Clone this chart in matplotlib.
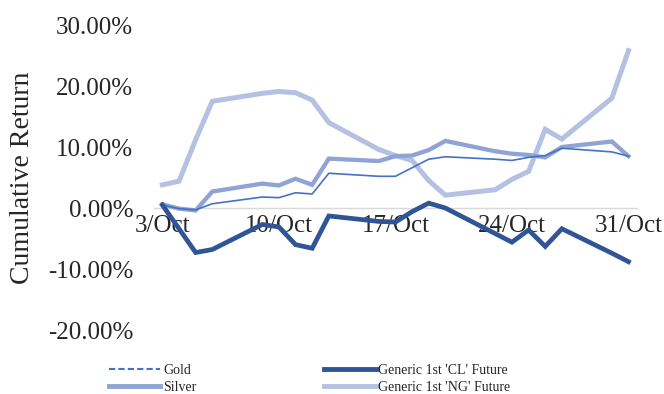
import matplotlib
matplotlib.use("Agg")
import matplotlib.pyplot as plt
import matplotlib.dates as mdates
from matplotlib.lines import Line2D
from matplotlib.ticker import FuncFormatter
import pandas as pd

# trading days in October 2023
dates = pd.to_datetime([
    "2023-10-03", "2023-10-04", "2023-10-05", "2023-10-06", "2023-10-09",
    "2023-10-10", "2023-10-11", "2023-10-12", "2023-10-13", "2023-10-16",
    "2023-10-17", "2023-10-18", "2023-10-19", "2023-10-20", "2023-10-23",
    "2023-10-24", "2023-10-25", "2023-10-26", "2023-10-27", "2023-10-30",
    "2023-10-31",
])

# cumulative returns, in percent
gold = [0.5, -0.1, -0.3, 0.7, 1.8, 1.7, 2.5, 2.3, 5.7, 5.2, 5.2,
        6.6, 8.0, 8.4, 8.0, 7.8, 8.3, 8.6, 9.8, 9.2, 8.5]
silver = [0.6, -0.1, -0.4, 2.7, 4.0, 3.7, 4.8, 3.8, 8.1, 7.7, 8.5,
          8.6, 9.5, 11.0, 9.3, 8.9, 8.7, 8.3, 10.0, 10.9, 8.5]
cl = [0.5, -3.4, -7.3, -6.8, -2.7, -3.1, -6.0, -6.6, -1.3, -2.2, -2.3,
      -0.6, 0.8, 0.0, -4.2, -5.6, -3.6, -6.3, -3.4, -7.4, -8.8]
ng = [3.8, 4.4, 11.2, 17.5, 18.8, 19.1, 18.9, 17.7, 14.0, 9.6, 8.6,
      7.8, 4.5, 2.1, 3.0, 4.7, 6.0, 12.9, 11.3, 18.0, 25.8]

names = ["Gold", "Silver", "Generic 1st 'CL' Future", "Generic 1st 'NG' Future"]
tick_dates = pd.to_datetime(["2023-10-03", "2023-10-10", "2023-10-17",
                             "2023-10-24", "2023-10-31"])
y_ticks = [-20, -10, 0, 10, 20, 30]

c_gold = "#4472C4"
c_silver = "#8FA3D5"
c_cl = "#2F5597"
c_ng = "#B5C1E3"

plt.rcParams["font.family"] = ["Liberation Serif", "DejaVu Serif"]

fig = plt.figure(figsize=(6.64, 3.94), dpi=100)
ax = fig.add_axes([0.232, 0.1624, 0.727, 0.7741])

ax.plot(dates, ng, color=c_ng, lw=3.6, solid_joinstyle="miter", zorder=2)
ax.plot(dates, silver, color=c_silver, lw=3.1, solid_joinstyle="miter", zorder=3)
ax.plot(dates, gold, color=c_gold, lw=1.2, zorder=4)
ax.plot(dates, cl, color=c_cl, lw=3.4, solid_joinstyle="miter", zorder=5)

half = pd.Timedelta(hours=12)
ax.set_xlim(dates[0] - half, dates[-1] + half)
ax.set_ylim(-20, 30)
ax.set_yticks(y_ticks)
ax.yaxis.set_major_formatter(FuncFormatter(lambda v, p: f"{v:.2f}%"))
ax.set_xticks(tick_dates)
ax.xaxis.set_major_formatter(mdates.DateFormatter("%-d/%b"))

for s in ["top", "right", "left"]:
    ax.spines[s].set_visible(False)
ax.spines["bottom"].set_position(("data", 0))
ax.spines["bottom"].set_color("#D9D9D9")
ax.spines["bottom"].set_linewidth(1.0)
ax.spines["bottom"].set_zorder(1)

ax.tick_params(axis="x", length=0, pad=5, labelsize=18, colors="#262626")
ax.tick_params(axis="y", length=0, pad=15, labelsize=18, colors="#262626")

fig.text(23 / 664, 1 - 177.5 / 394, "Cumulative Return", rotation=90,
         ha="center", va="center", fontsize=20, color="#262626")

handles = [
    Line2D([], [], color=c_gold, lw=1.5, ls=(0, (3, 1.5))),
    Line2D([], [], color=c_silver, lw=3.5),
    Line2D([], [], color=c_cl, lw=3.5),
    Line2D([], [], color=c_ng, lw=3.5),
]
fig.legend(handles, names, ncol=2, frameon=False, fontsize=10,
           loc="center left", bbox_to_anchor=(102 / 664, 1 - 379 / 394),
           borderpad=0, handlelength=3.7, handletextpad=0.2,
           columnspacing=9.2, labelspacing=0.3, labelcolor="#262626")

fig.savefig("out.png", dpi=100)
